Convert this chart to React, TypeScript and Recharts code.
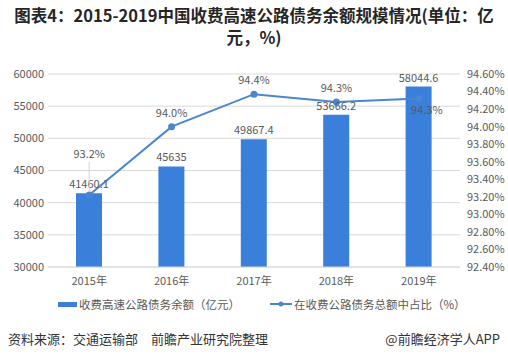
import { ComposedChart, Bar, Line, XAxis, YAxis, CartesianGrid, LabelList } from 'recharts'

const years = ['2015年', '2016年', '2017年', '2018年', '2019年']
const debt = [41460.1, 45635, 49867.4, 53666.2, 58044.6]
const share = [93.22, 94.0, 94.37, 94.28, 94.32]
const shareLabels = ['93.2%', '94.0%', '94.4%', '94.3%', '94.3%']
const leftTicks = [30000, 35000, 40000, 45000, 50000, 55000, 60000]
const rightTicks = [92.4, 92.6, 92.8, 93.0, 93.2, 93.4, 93.6, 93.8, 94.0, 94.2, 94.4, 94.6]

const data = years.map((year, i) => ({ year, debt: debt[i], share: share[i], label: shareLabels[i] }))

const BAR = '#3a7fda'
const LINE = '#4a86d0'
const FONT = '"Microsoft YaHei", "Noto Sans CJK SC", sans-serif'

function ShareLabel(props: any) {
    const { x, y, index } = props
    const text = shareLabels[index]
    if (index === 0) {
        return (
            <g>
                <line x1={x} y1={y - 4} x2={x} y2={y - 33} stroke="#d4d4d4" strokeWidth={1} />
                <text x={x} y={y - 40} textAnchor="middle" dominantBaseline="middle" fontSize={11} fill="#595959">{text}</text>
            </g>
        )
    }
    if (index === 4) {
        return <text x={x + 8} y={y + 12} textAnchor="middle" dominantBaseline="middle" fontSize={11} fill="#595959">{text}</text>
    }
    return <text x={x} y={y - 13} textAnchor="middle" dominantBaseline="middle" fontSize={11} fill="#595959">{text}</text>
}

export default function App() {
    const titleStyle = { position: 'absolute' as const, left: 0, width: 508, textAlign: 'center' as const, fontSize: 16.5, fontWeight: 700, lineHeight: '20px', color: '#262626' }
    return (
        <div style={{ position: 'absolute', left: 0, top: 0, width: 508, height: 358, background: '#fff', fontFamily: FONT, overflow: 'hidden' }}>
            <div style={{ ...titleStyle, top: 5 }}>图表4：2015-2019中国收费高速公路债务余额规模情况(单位：亿</div>
            <div style={{ ...titleStyle, top: 27 }}>元，%)</div>
            <ComposedChart
                width={508}
                height={358}
                data={data}
                margin={{ top: 74, right: 0, bottom: 61, left: 0 }}
                style={{ position: 'absolute', left: 0, top: 0 }}
            >
                <CartesianGrid vertical={false} stroke="#d9d9d9" yAxisId="left" />
                <XAxis
                    dataKey="year"
                    height={30}
                    tickLine={false}
                    axisLine={{ stroke: '#d9d9d9' }}
                    tickSize={0}
                    tickMargin={10}
                    tick={{ fontSize: 11, fill: '#595959' }}
                />
                <YAxis
                    yAxisId="left"
                    domain={[30000, 60000]}
                    ticks={leftTicks}
                    width={48}
                    axisLine={false}
                    tickLine={false}
                    tickSize={0}
                    tickMargin={4}
                    tick={{ fontSize: 11, fill: '#595959' }}
                />
                <YAxis
                    yAxisId="right"
                    orientation="right"
                    domain={[92.4, 94.6]}
                    ticks={rightTicks}
                    width={48}
                    axisLine={false}
                    tickLine={false}
                    tickSize={0}
                    tickMargin={7}
                    tick={{ fontSize: 11, fill: '#595959', textAnchor: 'start' }}
                    tickFormatter={(v: number) => v.toFixed(2) + '%'}
                />
                <Bar yAxisId="left" dataKey="debt" fill={BAR} barSize={26} isAnimationActive={false}>
                    <LabelList dataKey="debt" position="top" offset={5} fontSize={11} fill="#595959" />
                </Bar>
                <Line
                    yAxisId="right"
                    dataKey="share"
                    stroke={LINE}
                    strokeWidth={2}
                    dot={{ r: 2.5, fill: LINE, stroke: LINE }}
                    isAnimationActive={false}
                >
                    <LabelList dataKey="label" content={ShareLabel} />
                </Line>
            </ComposedChart>
            <div style={{ position: 'absolute', top: 296, left: 58, fontSize: 11.5, color: '#595959', display: 'flex', alignItems: 'center', whiteSpace: 'nowrap' }}>
                <span style={{ display: 'inline-block', width: 19, height: 5, background: BAR, marginRight: 2 }} />
                收费高速公路债务余额（亿元）
                <svg width={22} height={8} style={{ marginLeft: 30, marginRight: 2 }}>
                    <line x1={0} y1={4} x2={22} y2={4} stroke={LINE} strokeWidth={2} />
                    <circle cx={11} cy={4} r={2.5} fill={LINE} />
                </svg>
                在收费公路债务总额中占比（%）
            </div>
            <div style={{ position: 'absolute', top: 329, left: 8, fontSize: 13, color: '#333' }}>资料来源：交通运输部　前瞻产业研究院整理</div>
            <div style={{ position: 'absolute', top: 329, right: 8, fontSize: 13, color: '#333' }}>@前瞻经济学人APP</div>
        </div>
    )
}
